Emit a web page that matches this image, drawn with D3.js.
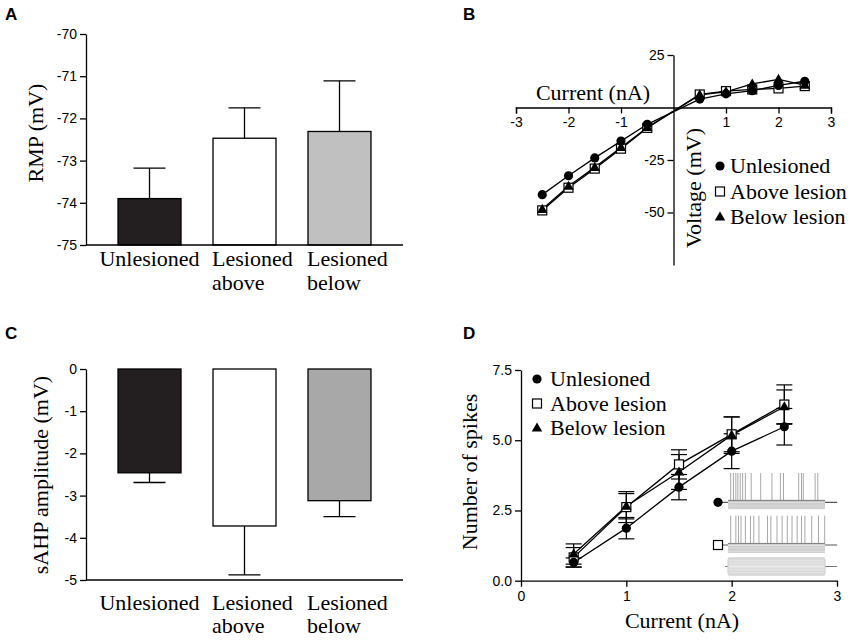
<!DOCTYPE html>
<html>
<head>
<meta charset="utf-8">
<script src="https://cdn.jsdelivr.net/npm/d3@7"></script>
<style>
body { margin: 0; background: #fff; }
.tick text { font-family: 'Liberation Sans', Arial, sans-serif; font-size: 14px; }
.letter { font-family: 'Liberation Sans', Arial, sans-serif; font-size: 17px; font-weight: bold; }
</style>
</head>
<body>
<svg width="850" height="640"></svg>
<script>
// groups for bar panels A and C
var groups = ['Unlesioned', 'Lesioned above', 'Lesioned below'];
var rmpMean = [-73.9, -72.47, -72.31];
var rmpSem = [0.72, 0.72, 1.2];
var sahpMean = [-2.46, -3.72, -3.12];
var sahpSem = [0.23, 1.16, 0.38];
var barFillsA = ['#231f20', '#ffffff', '#c0c0c0'];
var barFillsC = ['#231f20', '#ffffff', '#a8a8a8'];

// I-V relation, panel B
var ivCurrent = [-2.5, -2, -1.5, -1, -0.5, 0.5, 1, 1.5, 2, 2.5];
var ivUnlesioned = [-41.5, -32.5, -24, -16, -8, 4, 6.5, 8, 10.5, 12.5];
var ivAbove = [-49, -38.2, -29.1, -19.6, -9.7, 6.2, 7.8, 8.6, 9.1, 10.2];
var ivBelow = [-48.5, -37.5, -28.5, -19, -9.5, 6, 7.5, 11.2, 13.4, 10.6];

// spikes vs current, panel D
var fiCurrent = [0.5, 1, 1.5, 2, 2.5];
var fiUnlesioned = [0.65, 1.87, 3.33, 4.61, 5.48];
var fiUnlesionedSem = [0.16, 0.38, 0.45, 0.62, 0.65];
var fiAbove = [0.83, 2.62, 4.14, 5.21, 6.27];
var fiAboveSem = [0.35, 0.55, 0.52, 0.62, 0.7];
var fiBelow = [0.95, 2.65, 3.87, 5.18, 6.19];
var fiBelowSem = [0.36, 0.45, 0.62, 0.65, 0.6];

var seriesNames = ['Unlesioned', 'Above lesion', 'Below lesion'];

// inset spike times (ms in a 1000 ms step)
var spikesUnlesioned = [28, 56, 81, 102, 126, 151, 179, 239, 337, 453, 540, 572, 729, 758, 776, 898, 926];
var spikesAbove = [28, 81, 108, 134, 179, 232, 266, 319, 407, 442, 505, 558, 611, 660, 713, 758, 793, 863, 933, 997];

var SERIF = "'Liberation Serif', 'Times New Roman', serif";
var svg = d3.select('svg');
svg.append('rect').attr('width', 850).attr('height', 640).attr('fill', '#fff');

// hyphen minus like the original figure
function fmt(spec) {
	var f = d3.format(spec);
	return function(d) { return f(d).replace('\u2212', '-'); };
}

function serifText(g) {
	return g.append('text').attr('font-family', SERIF).attr('font-size', 22).attr('fill', '#000');
}

function styleAxis(g) {
	g.select('.domain').attr('stroke', '#000').attr('stroke-width', 1.3);
	g.selectAll('.tick line').attr('stroke', '#000').attr('stroke-width', 1.3);
	g.selectAll('.tick text').attr('fill', '#000');
}

function symbol(g, type, x, y) {
	if (type == 0) {
		g.append('circle').attr('cx', x).attr('cy', y).attr('r', 4.6).attr('fill', '#000');
	} else if (type == 1) {
		g.append('rect').attr('x', x - 4.5).attr('y', y - 4.5).attr('width', 9).attr('height', 9)
			.attr('fill', '#fff').attr('stroke', '#000').attr('stroke-width', 1.2);
	} else {
		g.append('path').attr('d', d3.symbol().type(d3.symbolTriangle).size(48)())
			.attr('transform', 'translate(' + x + ',' + (y + 0.5) + ')').attr('fill', '#000');
	}
}

// ---------- bar panels ----------
function barPanel(opt) {
	var g = svg.append('g');
	var x = d3.scaleBand().domain(groups).range([86, 403]).paddingInner(0.337).paddingOuter(0.337);
	var y = d3.scaleLinear().domain(opt.domain).range(opt.range);
	var base = opt.base;

	g.selectAll('rect.bar').data(opt.mean).enter().append('rect')
		.attr('class', 'bar')
		.attr('x', function(d, i) { return x(groups[i]); })
		.attr('width', x.bandwidth())
		.attr('y', function(d) { return Math.min(y(d), y(base)); })
		.attr('height', function(d) { return Math.abs(y(d) - y(base)); })
		.attr('fill', function(d, i) { return opt.fills[i]; })
		.attr('stroke', '#000').attr('stroke-width', 1.3);

	// error bars point away from the base
	opt.mean.forEach(function(m, i) {
		var dir = m > base ? 1 : -1;
		var cx = x(groups[i]) + x.bandwidth() / 2;
		var end = m + dir * opt.sem[i];
		g.append('line').attr('x1', cx).attr('x2', cx).attr('y1', y(m)).attr('y2', y(end))
			.attr('stroke', '#000').attr('stroke-width', 1.3);
		g.append('line').attr('x1', cx - 16).attr('x2', cx + 16).attr('y1', y(end)).attr('y2', y(end))
			.attr('stroke', '#000').attr('stroke-width', 1.3);
	});

	var ya = g.append('g').attr('transform', 'translate(86,0)')
		.call(d3.axisLeft(y).tickValues(d3.range(opt.domain[0], opt.domain[1] + 1)).tickFormat(fmt('d'))
			.tickSize(6).tickSizeOuter(0).tickPadding(3));
	styleAxis(ya);
	g.append('line').attr('x1', 86).attr('x2', 403).attr('y1', opt.range[0]).attr('y2', opt.range[0])
		.attr('stroke', '#000').attr('stroke-width', 1.3);

	groups.forEach(function(name, i) {
		var words = name.split(' ');
		if (words.length == 1) {
			serifText(g).attr('text-anchor', 'middle')
				.attr('x', x(name) + x.bandwidth() / 2).attr('y', opt.labelY[0]).text(name);
		} else {
			words.forEach(function(w, j) {
				serifText(g).attr('x', x(name) - 1).attr('y', opt.labelY[j]).text(w);
			});
		}
	});

	serifText(g).attr('text-anchor', 'middle')
		.attr('transform', 'translate(' + opt.titleX + ',' + opt.titleY + ') rotate(-90)')
		.text(opt.title);
}

barPanel({ domain: [-75, -70], range: [245, 34], base: -75, mean: rmpMean, sem: rmpSem,
	fills: barFillsA, labelY: [266, 290], title: 'RMP (mV)', titleX: 43, titleY: 133 });
barPanel({ domain: [-5, 0], range: [580, 369], base: 0, mean: sahpMean, sem: sahpSem,
	fills: barFillsC, labelY: [610, 633], title: 'sAHP amplitude (mV)', titleX: 48, titleY: 475 });

// ---------- panel B ----------
(function() {
	var g = svg.append('g');
	var x = d3.scaleLinear().domain([-3, 3]).range([516, 831]);
	var y = d3.scaleLinear().domain([-75, 25]).range([265, 55]);

	var xa = g.append('g').attr('transform', 'translate(0,' + y(0) + ')')
		.call(d3.axisBottom(x).tickValues([-3, -2, -1, 1, 2, 3]).tickFormat(fmt('d'))
			.tickSize(6).tickSizeOuter(6).tickPadding(4));
	styleAxis(xa);
	var ya = g.append('g').attr('transform', 'translate(' + x(0) + ',0)')
		.call(d3.axisLeft(y).tickValues([25, -25, -50]).tickFormat(fmt('d'))
			.tickSize(6).tickSizeOuter(0).tickPadding(3));
	styleAxis(ya);

	var line = d3.line().x(function(d) { return x(d[0]); }).y(function(d) { return y(d[1]); });
	var series = [ivUnlesioned, ivAbove, ivBelow];
	series.forEach(function(s) {
		g.append('path').attr('d', line(d3.zip(ivCurrent, s)))
			.attr('fill', 'none').attr('stroke', '#000').attr('stroke-width', 1.3);
	});
	[1, 2, 0].forEach(function(k) {
		series[k].forEach(function(v, i) { symbol(g, k, x(ivCurrent[i]), y(v)); });
	});

	serifText(g).attr('text-anchor', 'middle').attr('x', 593).attr('y', 100).text('Current (nA)');
	serifText(g).attr('text-anchor', 'middle')
		.attr('transform', 'translate(701,188) rotate(-90)').text('Voltage (mV)');

	seriesNames.forEach(function(n, k) {
		var cy = 166 + k * 25.5;
		symbol(g, k, 720, cy);
		serifText(g).attr('x', 730).attr('y', cy + 7).text(n);
	});
})();

// ---------- panel D ----------
(function() {
	var g = svg.append('g');
	var x = d3.scaleLinear().domain([0, 3]).range([521, 837]);
	var y = d3.scaleLinear().domain([0, 7.5]).range([580.7, 370]);

	// inset: example recordings
	var t = d3.scaleLinear().domain([0, 1000]).range([728, 825]);
	var traces = [{ spikes: spikesUnlesioned, iv: ivUnlesioned, base: 503, sym: 0 },
		{ spikes: spikesAbove, iv: ivAbove, base: 545.7, sym: 1 }];
	traces.forEach(function(tr) {
		var v = d3.scaleLinear().domain([-50, 15]).range([tr.base + 7, tr.base - 3]);
		g.append('line').attr('x1', t(-60)).attr('x2', t(1125)).attr('y1', v(0)).attr('y2', v(0))
			.attr('stroke', '#555').attr('stroke-width', 1.2);
		g.append('rect').attr('x', t(0)).attr('y', v(d3.max(tr.iv))).attr('width', t(1000) - t(0))
			.attr('height', v(d3.min(tr.iv)) - v(d3.max(tr.iv))).attr('rx', 2)
			.attr('fill', '#e4e4e4');
		tr.iv.forEach(function(d) {
			g.append('line').attr('x1', t(0)).attr('x2', t(1000)).attr('y1', v(d)).attr('y2', v(d))
				.attr('stroke', '#c4c4c4').attr('stroke-width', 0.8);
		});
		tr.spikes.forEach(function(s) {
			g.append('line').attr('x1', t(s)).attr('x2', t(s)).attr('y1', v(d3.max(tr.iv))).attr('y2', tr.base - 30)
				.attr('stroke', '#a8a8a8').attr('stroke-width', 1);
		});
		g.append('line').attr('x1', t(0)).attr('x2', t(1000)).attr('y1', v(d3.max(tr.iv))).attr('y2', v(d3.max(tr.iv)))
			.attr('stroke', '#808080').attr('stroke-width', 1);
		symbol(g, tr.sym, 718, v(0));
	});
	var iStep = d3.scaleLinear().domain([-2.5, 2.5]).range([575, 558]);
	g.append('line').attr('x1', t(-30)).attr('x2', t(1125)).attr('y1', iStep(0)).attr('y2', iStep(0))
		.attr('stroke', '#777').attr('stroke-width', 1);
	g.append('rect').attr('x', t(0)).attr('y', iStep(2.5)).attr('width', t(1000) - t(0))
		.attr('height', iStep(-2.5) - iStep(2.5)).attr('rx', 2).attr('fill', '#e8e8e8').attr('stroke', '#c8c8c8');
	ivCurrent.forEach(function(c) {
		g.append('line').attr('x1', t(0)).attr('x2', t(1000)).attr('y1', iStep(c)).attr('y2', iStep(c))
			.attr('stroke', '#d8d8d8').attr('stroke-width', 1);
	});

	var xa = g.append('g').attr('transform', 'translate(0,580.7)')
		.call(d3.axisBottom(x).tickValues([0, 1, 2, 3]).tickFormat(fmt('d'))
			.tickSize(6).tickSizeOuter(0).tickPadding(4));
	styleAxis(xa);
	var ya = g.append('g').attr('transform', 'translate(521,0)')
		.call(d3.axisLeft(y).tickValues([0, 2.5, 5, 7.5]).tickFormat(fmt('.1f'))
			.tickSize(6).tickSizeOuter(0).tickPadding(3));
	styleAxis(ya);

	var line = d3.line().x(function(d) { return x(d[0]); }).y(function(d) { return y(d[1]); });
	var series = [[fiUnlesioned, fiUnlesionedSem], [fiAbove, fiAboveSem], [fiBelow, fiBelowSem]];
	series.forEach(function(s) {
		s[0].forEach(function(m, i) {
			var cx = x(fiCurrent[i]);
			g.append('line').attr('x1', cx).attr('x2', cx).attr('y1', y(m - s[1][i])).attr('y2', y(m + s[1][i]))
				.attr('stroke', '#000').attr('stroke-width', 1.2);
			[m - s[1][i], m + s[1][i]].forEach(function(e) {
				g.append('line').attr('x1', cx - 8).attr('x2', cx + 8).attr('y1', y(e)).attr('y2', y(e))
					.attr('stroke', '#000').attr('stroke-width', 1.2);
			});
		});
		g.append('path').attr('d', line(d3.zip(fiCurrent, s[0])))
			.attr('fill', 'none').attr('stroke', '#000').attr('stroke-width', 1.3);
	});
	[1, 2, 0].forEach(function(k) {
		series[k][0].forEach(function(v, i) { symbol(g, k, x(fiCurrent[i]), y(v)); });
	});

	seriesNames.forEach(function(n, k) {
		var cy = 379 + k * 24.5;
		symbol(g, k, 537, cy);
		serifText(g).attr('x', 550).attr('y', cy + 7).text(n);
	});

	serifText(g).attr('text-anchor', 'middle').attr('x', 682).attr('y', 628).text('Current (nA)');
	serifText(g).attr('text-anchor', 'middle')
		.attr('transform', 'translate(477,472) rotate(-90)').text('Number of spikes');
})();

// panel letters
svg.append('text').attr('class', 'letter').attr('x', 5).attr('y', 20).text('A');
svg.append('text').attr('class', 'letter').attr('x', 463).attr('y', 20).text('B');
svg.append('text').attr('class', 'letter').attr('x', 5).attr('y', 339).text('C');
svg.append('text').attr('class', 'letter').attr('x', 463).attr('y', 339).text('D');
</script>
</body>
</html>
